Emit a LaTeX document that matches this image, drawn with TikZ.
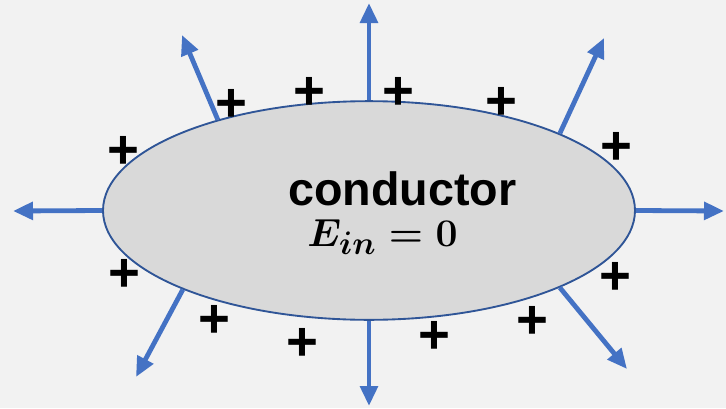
\documentclass[tikz,border=0pt]{standalone}
\usepackage{fontspec}
\setmainfont{Liberation Sans}
\usepackage{amsmath}
\usetikzlibrary{arrows.meta, shapes.geometric}
\definecolor{fondo}{HTML}{F2F2F2}
\definecolor{relleno}{HTML}{D9D9D9}
\definecolor{borde}{HTML}{2F5597}
\definecolor{azul}{HTML}{4472C4}
\tikzset{
    cuerpo/.style={ellipse, draw=borde, fill=relleno, line width=1.4pt, minimum width=399pt, minimum height=164pt, inner sep=0pt},
    carga/.style={inner sep=0pt, font=\fontsize{41}{41}\selectfont\bfseries},
    flecha/.style={draw=azul, line width=3.6pt, -{Triangle[length=15pt, width=13pt]}},
}

\begin{document}
\begin{tikzpicture}[x=0.75pt, y=-0.75pt]
\fill[fondo] (0,0) rectangle (726,408);
\useasboundingbox (0,0) rectangle (726,408);
% conductor
\node[cuerpo] (cond) at (369,210.5) {};
\node[anchor=base, font=\fontsize{35}{35}\selectfont\bfseries] (nombre) at (402.5,205) {conductor};
\node[anchor=base, font=\fontsize{24.88}{24.88}\selectfont] (campo) at (382.5,246) {\scalebox{1.18}{$\boldsymbol{E_{in}=0}$}};
% field lines
\coordinate (t1) at (369,3);
\coordinate (t2) at (182,35);
\coordinate (t3) at (604,38);
\coordinate (t4) at (13,211);
\coordinate (t5) at (724,211);
\coordinate (t6) at (136,377);
\coordinate (t7) at (369,406);
\coordinate (t8) at (627,369);
\draw[flecha] (cond.90) -- (t1);
\draw[flecha] (cond.149) -- (t2);
\draw[flecha] (cond.22) -- (t3);
\draw[flecha] (cond.180) -- (t4);
\draw[flecha] (cond.0) -- (t5);
\draw[flecha] (cond.203) -- (t6);
\draw[flecha] (cond.270) -- (t7);
\draw[flecha] (cond.338) -- (t8);
% charges
\foreach \n/\x/\y in {1/123/152, 2/231/105, 3/309/93, 4/398/93, 5/501/103, 6/616/148,
    7/124/275, 8/214/321, 9/302/344, 10/434/337, 11/532/322, 12/615/278}
    \node[carga] (p\n) at (\x,\y) {+};
\end{tikzpicture}
\end{document}
